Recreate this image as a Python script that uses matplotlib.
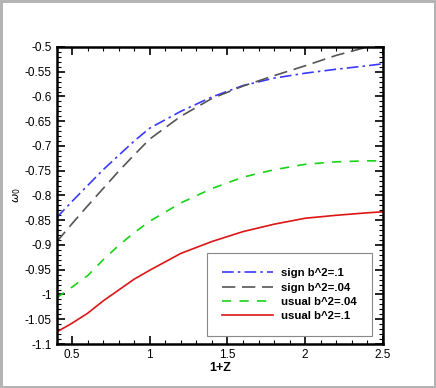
import matplotlib
matplotlib.use("Agg")
import matplotlib.pyplot as plt
from matplotlib.ticker import MultipleLocator

plt.rcParams['font.family'] = ['Liberation Sans', 'DejaVu Sans']

z = [0.4, 0.5, 0.6, 0.7, 0.8, 0.9, 1.0, 1.2, 1.4, 1.6, 1.8, 2.0, 2.2, 2.4, 2.5]
sign_b1 = [-0.845, -0.812, -0.780, -0.748, -0.719, -0.690, -0.664, -0.630, -0.601,
           -0.578, -0.563, -0.553, -0.545, -0.538, -0.534]
sign_b04 = [-0.894, -0.857, -0.821, -0.786, -0.751, -0.718, -0.686, -0.640, -0.604,
            -0.579, -0.558, -0.538, -0.517, -0.500, -0.490]
usual_b04 = [-1.007, -0.985, -0.962, -0.930, -0.901, -0.875, -0.852, -0.815, -0.786,
             -0.763, -0.748, -0.737, -0.732, -0.730, -0.730]
usual_b1 = [-1.076, -1.058, -1.038, -1.013, -0.991, -0.969, -0.951, -0.917, -0.893,
            -0.873, -0.858, -0.846, -0.840, -0.835, -0.833]
labels = ['sign b^2=.1', 'sign b^2=.04', 'usual b^2=.04', 'usual b^2=.1']

fig = plt.figure(figsize=(4.36, 3.88), dpi=100)
fig.patch.set_edgecolor('#b4b4b4')
fig.patch.set_linewidth(2.5)
ax = fig.add_axes([0.1296, 0.1134, 0.7486, 0.7656])

lw = 1.2
ax.plot(z, sign_b1, color='#3a3aff', lw=lw, dashes=(7, 2.5, 1.5, 2.5), label=labels[0])
ax.plot(z, sign_b04, color='#555555', lw=lw, dashes=(8, 4), label=labels[1])
ax.plot(z, usual_b04, color='#16d416', lw=lw, dashes=(5.5, 5), label=labels[2])
ax.plot(z, usual_b1, color='#dd1515', lw=lw, label=labels[3])

ax.set_xlim(0.4, 2.5)
ax.set_ylim(-1.1, -0.5)
ax.xaxis.set_major_locator(MultipleLocator(0.5))
ax.xaxis.set_minor_locator(MultipleLocator(0.1))
ax.yaxis.set_major_locator(MultipleLocator(0.05))
ax.yaxis.set_minor_locator(MultipleLocator(0.01))

def fmt(v, pos):
    return '%g' % round(v, 3)
ax.xaxis.set_major_formatter(plt.FuncFormatter(fmt))
ax.yaxis.set_major_formatter(plt.FuncFormatter(fmt))

ax.tick_params(which='both', direction='in', top=True, right=True, width=1.2, labelsize=8.5)
ax.tick_params(which='major', length=6)
ax.tick_params(which='minor', length=3, width=0.8)
for s in ax.spines.values():
    s.set_linewidth(1.8)

ax.set_xlabel('1+Z', fontsize=9, fontweight='bold', labelpad=1)
ax.set_ylabel(r'$\omega_0$', fontsize=8)
ax.yaxis.set_label_coords(-0.103, 0.5)

leg = ax.legend(loc='lower right', bbox_to_anchor=(0.966, 0.027), borderaxespad=0,
                frameon=True, fancybox=False,
                edgecolor='#888888', framealpha=1, handlelength=4.5, handletextpad=0.7,
                borderpad=1.3, labelspacing=0.38, prop={'weight': 'bold', 'size': 8.2})
leg.get_frame().set_linewidth(0.8)

fig.savefig('out.png', dpi=100)
